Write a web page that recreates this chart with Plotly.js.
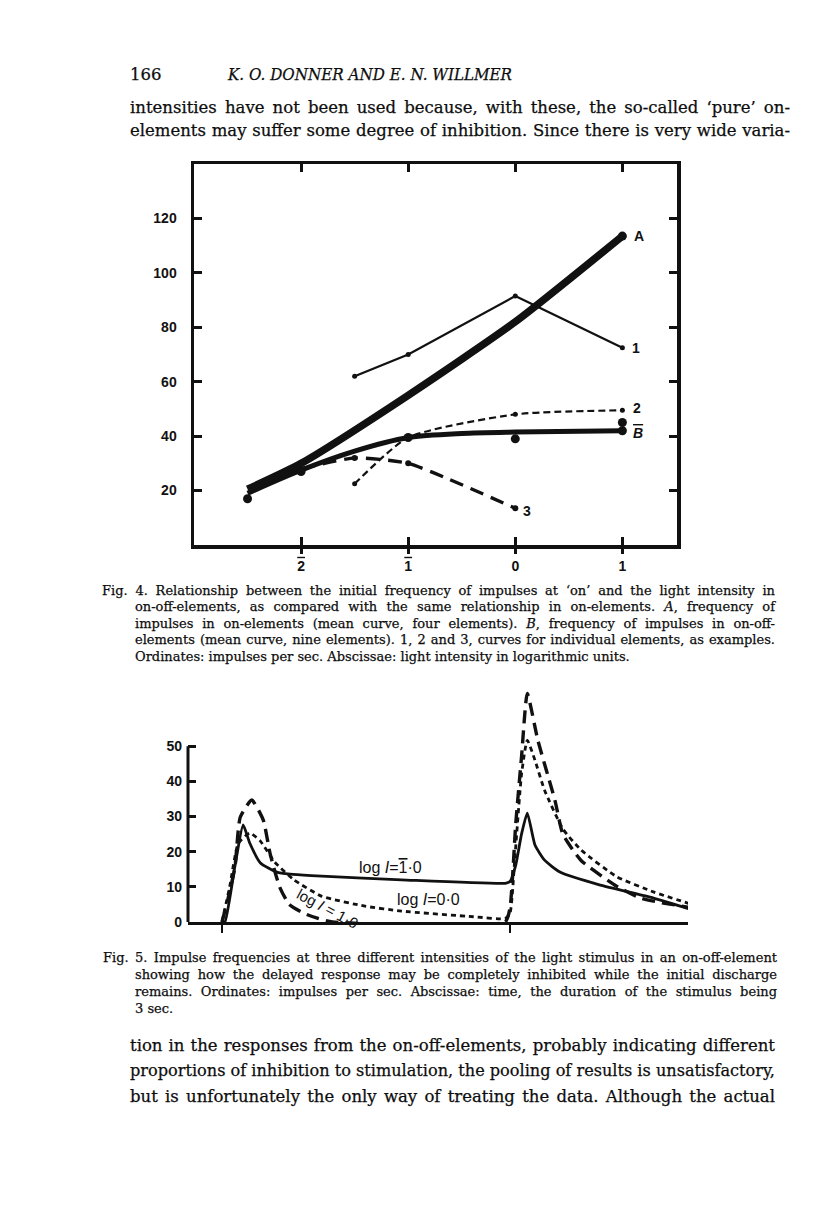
<!DOCTYPE html>
<html>
<head>
<meta charset="utf-8">
<script src="https://cdn.plot.ly/plotly-3.0.1.min.js"></script>
<style>
  body { margin: 0; background: #fff; }
  #page { position: relative; width: 816px; height: 1221px; overflow: hidden; background: #fff; }
  #plot { position: absolute; left: 0; top: 0; width: 816px; height: 1221px; }
  .t { position: absolute; font-family: "DejaVu Serif", "Liberation Serif", serif; color: #0d0d0d; white-space: nowrap; z-index: 5; transform-origin: 0 50%; -webkit-text-stroke: 0.25px #0d0d0d; }
</style>
</head>
<body>
<div id="page"><div id="plot"></div></div>
<script>
// ---------------- Fig. 4 data (x: log light intensity, y: impulses per sec) ----------------
const fig4XTicks = [-2, -1, 0, 1];
const fig4XTickText = ["<span style='text-decoration:overline'>2</span>", "<span style='text-decoration:overline'>1</span>", "0", "1"];
const fig4YTicks = [20, 40, 60, 80, 100, 120];

const curveA_x = [-2.5, -2, -1, 0, 1];
const curveA_y = [20.5, 30, 55, 82, 113.5];

const curveB_x = [-2.5, -2, -1.5, -1, -0.5, 0, 1];
const curveB_y = [19, 27.5, 34.5, 39.5, 41, 41.5, 42];
const curveB_dots_x = [-2.5, -2, -1, 0, 1, 1];
const curveB_dots_y = [17, 27, 39.5, 39, 45, 42];

const curve1_x = [-1.5, -1, 0, 1];
const curve1_y = [62, 70, 91.5, 72.5];

const curve2_x = [-1.5, -1, 0, 1];
const curve2_y = [22.5, 39.5, 48, 49.5];

const curve3_x = [-2, -1.5, -1, 0];
const curve3_y = [28, 32, 30, 13.5];

// ---------------- Fig. 5 data (t: seconds from light on, v: impulses per sec) ----------------
const fig5YTicks = [0, 10, 20, 30, 40, 50];
const fig5StimTicks = [0, 3];

const solid_t = [0, 0.03, 0.135, 0.22, 0.29, 0.40, 0.57, 0.71, 0.93, 1.87, 2.95, 3.0, 3.06, 3.12, 3.18, 3.26, 3.36, 3.52, 3.94, 4.46, 4.86];
const solid_v = [0, 0, 15.9, 27.6, 22.4, 16.8, 14.2, 13.6, 13.2, 12.0, 11.0, 11.5, 16.2, 25, 31, 21.9, 17.6, 14.2, 10.5, 7.1, 3.8];

const shortDash_t = [0, 0.08, 0.17, 0.29, 0.40, 0.55, 0.75, 1.04, 1.49, 1.87, 2.62, 2.95, 3.0, 3.05, 3.12, 3.18, 3.26, 3.36, 3.55, 3.74, 4.11, 4.5, 4.86];
const shortDash_v = [0, 10, 22.4, 25.3, 23, 17, 12, 7.3, 4.5, 3.1, 1.5, 1.0, 2.5, 18, 42, 51.7, 46, 37.5, 26.5, 20.5, 12.9, 8.5, 5.3];

const longDash_t = [0, 0.06, 0.135, 0.19, 0.31, 0.43, 0.50, 0.60, 0.70, 0.85, 1.0, 1.15, 2.95, 3.0, 3.06, 3.12, 3.18, 3.29, 3.47, 3.55, 3.74, 4.11, 4.37, 4.86];
const longDash_v = [0, 6.3, 15.6, 29.8, 34.7, 29, 19.6, 10, 5, 2.5, 1, 0, 0, 4, 28, 47, 65, 51.7, 34.4, 25, 17.5, 10.2, 6.7, 4.2];

// ---------------- page text ----------------
const headerNumber = "166";
const headerTitle = "K. O. DONNER AND E. N. WILLMER";
const topLines = [
  "intensities have not been used because, with these, the so-called \u2018pure\u2019 on-",
  "elements may suffer some degree of inhibition. Since there is very wide varia-"
];
const fig4Caption = [
  "Fig. 4. Relationship between the initial frequency of impulses at \u2018on\u2019 and the light intensity in",
  "on-off-elements, as compared with the same relationship in on-elements. <i>A</i>, frequency of",
  "impulses in on-elements (mean curve, four elements). <i>B</i>, frequency of impulses in on-off-",
  "elements (mean curve, nine elements). 1, 2 and 3, curves for individual elements, as examples.",
  "Ordinates: impulses per sec. Abscissae: light intensity in logarithmic units."
];
const fig5Caption = [
  "Fig. 5. Impulse frequencies at three different intensities of the light stimulus in an on-off-element",
  "showing how the delayed response may be completely inhibited while the initial discharge",
  "remains. Ordinates: impulses per sec. Abscissae: time, the duration of the stimulus being",
  "3 sec."
];
const bottomLines = [
  "tion in the responses from the on-off-elements, probably indicating different",
  "proportions of inhibition to stimulation, the pooling of results is unsatisfactory,",
  "but is unfortunately the only way of treating the data. Although the actual"
];

// ---------------- figure ----------------
const W = 816, H = 1221;
const px = p => p / W;
const py = p => 1 - p / H;
const ink = "#111";
const sansBold = { family: "Liberation Sans, Arial, sans-serif", size: 14, color: ink, weight: "bold" };
const labelFont = { family: "Liberation Sans, Arial, sans-serif", size: 16, color: ink };

const traces = [
  // Fig 4
  { x: curve1_x, y: curve1_y, mode: "lines+markers", line: { color: ink, width: 2.2 }, marker: { color: ink, size: 5 }, xaxis: "x", yaxis: "y" },
  { x: curve2_x, y: curve2_y, mode: "lines+markers", line: { color: ink, width: 2.2, dash: "7px,4px", shape: "spline", smoothing: 0.6 }, marker: { color: ink, size: 5 }, xaxis: "x", yaxis: "y" },
  { x: curve3_x, y: curve3_y, mode: "lines+markers", line: { color: ink, width: 3.4, dash: "14px,8px", shape: "spline", smoothing: 0.5 }, marker: { color: ink, size: 6 }, xaxis: "x", yaxis: "y" },
  { x: curveB_x, y: curveB_y, mode: "lines", line: { color: ink, width: 5, shape: "spline", smoothing: 0.8 }, xaxis: "x", yaxis: "y" },
  { x: curveB_dots_x, y: curveB_dots_y, mode: "markers", marker: { color: ink, size: 9 }, xaxis: "x", yaxis: "y" },
  { x: curveA_x, y: curveA_y, mode: "lines", line: { color: ink, width: 7.5, shape: "spline", smoothing: 0.6 }, xaxis: "x", yaxis: "y" },
  { x: [curveA_x[curveA_x.length - 1]], y: [curveA_y[curveA_y.length - 1]], mode: "markers", marker: { color: ink, size: 9 }, xaxis: "x", yaxis: "y" },
  { x: [], y: [], xaxis: "x2", yaxis: "y", mode: "lines" },
  // Fig 5
  { x: solid_t, y: solid_v, mode: "lines", line: { color: ink, width: 2.8, shape: "spline", smoothing: 0.5 }, xaxis: "x3", yaxis: "y3" },
  { x: shortDash_t, y: shortDash_v, mode: "lines", line: { color: ink, width: 2.8, dash: "5px,4px", shape: "spline", smoothing: 0.5 }, xaxis: "x3", yaxis: "y3" },
  { x: longDash_t, y: longDash_v, mode: "lines", line: { color: ink, width: 3.4, dash: "13px,7px", shape: "spline", smoothing: 0.5 }, xaxis: "x3", yaxis: "y3" }
];

const last = a => a[a.length - 1];

const layout = {
  width: W, height: H,
  margin: { l: 0, r: 0, t: 0, b: 0 },
  paper_bgcolor: "#fff", plot_bgcolor: "rgba(0,0,0,0)",
  showlegend: false,
  xaxis: {
    domain: [px(194), px(677)], anchor: "y", range: [-3, 1.51],
    tickvals: fig4XTicks, ticks: "inside", ticklen: 8, tickwidth: 3, tickcolor: ink,
    showticklabels: false, showline: true, linewidth: 3.5, linecolor: ink, mirror: "ticks",
    showgrid: false, zeroline: false
  },
  xaxis2: {
    overlaying: "x", anchor: "y", side: "bottom", range: [-3, 1.51],
    tickvals: fig4XTicks, ticktext: fig4XTickText, ticks: "outside", ticklen: 8, tickwidth: 3, tickcolor: ink,
    tickfont: sansBold, showline: false, showgrid: false, zeroline: false
  },
  yaxis: {
    domain: [py(545), py(164)], anchor: "x", range: [0, 140],
    tickvals: fig4YTicks, ticks: "inside", ticklen: 8, tickwidth: 3, tickcolor: ink,
    tickfont: sansBold, ticklabelstandoff: 11,
    showline: true, linewidth: 3.5, linecolor: ink, mirror: "ticks",
    showgrid: false, zeroline: false
  },
  xaxis3: {
    domain: [px(188), px(688)], anchor: "y3", range: [-0.354, 4.854],
    tickvals: fig5StimTicks, ticks: "outside", ticklen: 8, tickwidth: 2.5, tickcolor: ink,
    showticklabels: false, showline: true, linewidth: 3, linecolor: ink,
    showgrid: false, zeroline: false
  },
  yaxis3: {
    domain: [py(922), py(690)], anchor: "x3", range: [0, 66],
    tickvals: fig5YTicks, ticks: "inside", ticklen: 8, tickwidth: 3, tickcolor: ink,
    tickfont: sansBold, ticklabelstandoff: 5,
    showline: false, showgrid: false, zeroline: false
  },
  shapes: [
    { type: "line", xref: "x3 domain", yref: "y3", x0: 0, x1: 0, y0: 0, y1: Math.max(...fig5YTicks), line: { color: ink, width: 3 } }
  ],
  annotations: [
    { xref: "x", yref: "y", x: last(curveA_x), y: last(curveA_y), text: "<b>A</b>", showarrow: false, xanchor: "left", xshift: 10, font: { ...labelFont, size: 14 } },
    { xref: "x", yref: "y", x: last(curve1_x), y: last(curve1_y), text: "<b>1</b>", showarrow: false, xanchor: "left", xshift: 8, font: { ...labelFont, size: 14 } },
    { xref: "x", yref: "y", x: last(curve2_x), y: last(curve2_y), text: "<b>2</b>", showarrow: false, xanchor: "left", xshift: 9, yshift: 2, font: { ...labelFont, size: 14 } },
    { xref: "x", yref: "y", x: last(curveB_x), y: last(curveB_y), text: "<span style='text-decoration:overline'><b><i>B</i></b></span>", showarrow: false, xanchor: "left", xshift: 9, yshift: -2, font: { ...labelFont, size: 14 } },
    { xref: "x", yref: "y", x: last(curve3_x), y: last(curve3_y), text: "<b>3</b>", showarrow: false, xanchor: "left", xshift: 6, yshift: -3, font: { ...labelFont, size: 14 } },
    { xref: "x3", yref: "y3", x: 1.75, y: 15.5, text: "log <i>I</i>=<span style='text-decoration:overline'>1</span>\u00b70", showarrow: false, font: labelFont },
    { xref: "x3", yref: "y3", x: 2.15, y: 6.3, text: "log <i>I</i>=0\u00b70", showarrow: false, font: labelFont },
    { xref: "x3", yref: "y3", x: 1.1, y: 3.8, text: "log <i>I</i> = 1\u00b70", showarrow: false, textangle: 28, font: { ...labelFont, size: 15 } }
  ]
};

Plotly.newPlot("plot", traces, layout, { staticPlot: true, displayModeBar: false });

// ---------------- text placement (lines fitted to the column width) ----------------
const page = document.getElementById("page");
function putLine(html, x, yCenter, size, right, extra) {
  const d = document.createElement("div");
  d.className = "t";
  d.style.left = x + "px";
  d.style.fontSize = size + "px";
  d.style.lineHeight = Math.round(size * 1.3) + "px";
  d.style.top = (yCenter - size * 0.68) + "px";
  d.innerHTML = html;
  if (extra) Object.assign(d.style, extra);
  page.appendChild(d);
  if (right) {
    const w = d.getBoundingClientRect().width;
    const target = right - x;
    const n = d.textContent.split(" ").length - 1;
    if (w < target && n > 0) {
      d.style.wordSpacing = ((target - w) / n) + "px";
    } else if (w > target) {
      d.style.transform = "scaleX(" + (target / w) + ")";
    }
  }
}
function layoutText() {
  putLine(headerNumber, 130, 75, 16.5, null, {});
  putLine(headerTitle, 228, 75, 16.5, 512, { fontStyle: "italic" });
  topLines.forEach((l, i) => putLine(l, 130, 108 + i * 23, 16.5, 790));
  const c4y = [591, 607, 624, 640, 657];
  fig4Caption.forEach((l, i) => putLine(l, i === 0 ? 102 : 135, c4y[i], 13, i < fig4Caption.length - 1 ? 775 : null));
  const c5y = [958, 975, 992, 1009];
  fig5Caption.forEach((l, i) => putLine(l, i === 0 ? 103 : 135, c5y[i], 13, i < fig5Caption.length - 1 ? 777 : null));
  bottomLines.forEach((l, i) => putLine(l, 130, 1046 + i * 25.5, 16.5, 775));
}
if (document.fonts && document.fonts.ready) document.fonts.ready.then(layoutText); else layoutText();
</script>
</body>
</html>
